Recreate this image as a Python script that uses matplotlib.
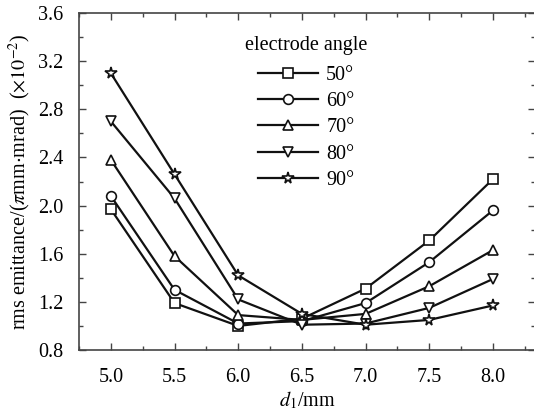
import matplotlib
matplotlib.use("Agg")
import matplotlib.pyplot as plt
from matplotlib.ticker import MultipleLocator

plt.rcParams['font.family'] = ['Liberation Serif', 'DejaVu Serif']
plt.rcParams['mathtext.fontset'] = 'stix'

d1 = [5.0, 5.5, 6.0, 6.5, 7.0, 7.5, 8.0]
labels = ['50°', '60°', '70°', '80°', '90°']
markers = ['s', 'o', '^', 'v', '*']
e50 = [1.97, 1.19, 1.00, 1.06, 1.31, 1.71, 2.22]
e60 = [2.08, 1.30, 1.02, 1.04, 1.19, 1.53, 1.96]
e70 = [2.38, 1.58, 1.09, 1.05, 1.10, 1.33, 1.63]
e80 = [2.70, 2.06, 1.22, 1.01, 1.02, 1.15, 1.39]
e90 = [3.10, 2.26, 1.42, 1.10, 1.01, 1.05, 1.17]
series = [e50, e60, e70, e80, e90]

fig = plt.figure(figsize=(5.34, 4.16), dpi=100)
ax = fig.add_axes([79/534, 66/416, (535-79)/534, (350-13)/416])

for y, lab, m in zip(series, labels, markers):
    ms = 8.5 if m == '*' else 7
    ax.plot(d1, y, color='#111111', lw=1.6, marker=m, ms=ms,
            mfc='white', mec='#111111', mew=1.2, label=lab)

ax.set_xlim(4.75, 8.33)
ax.set_ylim(0.8, 3.6)
ax.xaxis.set_major_locator(MultipleLocator(0.5))
ax.xaxis.set_minor_locator(MultipleLocator(0.25))
ax.yaxis.set_major_locator(MultipleLocator(0.4))
ax.yaxis.set_minor_locator(MultipleLocator(0.2))
ax.tick_params(which='both', direction='in', top=True, right=True,
               labelsize=14.5, color='#444444')
ax.tick_params(axis='x', pad=13)
ax.tick_params(axis='y', pad=11)
ax.tick_params(which='major', length=5, width=1)
ax.tick_params(which='minor', length=3, width=1)
for s in ax.spines.values():
    s.set_color('#444444')
    s.set_linewidth(1.2)

ax.set_xlabel(r'$d_1$/mm', fontsize=14.5, labelpad=2)
ax.set_ylabel(r'rms emittance/($\pi$mm$\cdot$mrad)  ($\times10^{-2}$)', fontsize=14.5, labelpad=4)

leg = ax.legend(loc='upper left', bbox_to_anchor=(0.333, 0.975), frameon=False,
                title='electrode angle', fontsize=14.5, title_fontsize=14.5,
                handlelength=3.0, handletextpad=0.4, labelspacing=0.36, borderpad=0.2)
leg._legend_box.align = 'center'
leg._legend_box.sep = 8

fig.savefig('out.png', dpi=100)
